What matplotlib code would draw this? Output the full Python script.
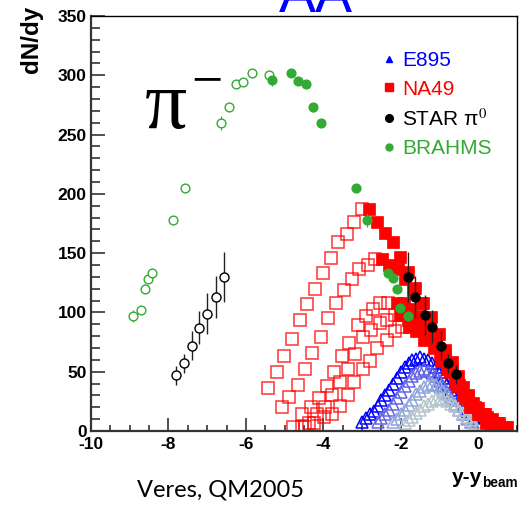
import matplotlib.pyplot as plt
import matplotlib.ticker as ticker
from matplotlib.lines import Line2D

plt.rcParams['font.family'] = ['Liberation Sans', 'DejaVu Sans']
plt.rcParams['mathtext.fontset'] = 'stix'
plt.rcParams['axes.unicode_minus'] = False

# E895 pi- dN/dy, 8, 6, 4, 2 AGeV (open triangles)
e895_8_x = [-3.0, -2.9, -2.8, -2.7, -2.6, -2.5, -2.4, -2.3, -2.2, -2.1, -2.0,
            -1.9, -1.8, -1.7, -1.6, -1.5, -1.4, -1.3, -1.2, -1.1, -1.0,
            -0.9, -0.8, -0.7, -0.6, -0.5, -0.4, -0.3, -0.2, -0.1, 0.0]
e895_8_y = [8, 11, 14, 17, 21, 26, 30, 35, 40, 45, 50, 54, 57, 60, 61, 62,
            61, 60, 57, 54, 50, 45, 40, 35, 30, 26, 21, 17, 14, 11, 8]
e895_6_x = [-2.6, -2.5, -2.4, -2.3, -2.2, -2.1, -2.0, -1.9, -1.8, -1.7, -1.6,
            -1.5, -1.4, -1.3, -1.2, -1.1, -1.0, -0.9, -0.8, -0.7, -0.6,
            -0.5, -0.4, -0.3, -0.2]
e895_6_y = [8, 11, 14, 18, 23, 28, 33, 38, 42, 46, 49, 51, 52, 51, 49, 46,
            42, 38, 33, 28, 23, 18, 14, 11, 8]
e895_4_x = [-2.2, -2.1, -2.0, -1.9, -1.8, -1.7, -1.6, -1.5, -1.4, -1.3, -1.2,
            -1.1, -1.0, -0.9, -0.8, -0.7, -0.6, -0.5, -0.4, -0.3, -0.2]
e895_4_y = [8, 10, 14, 18, 22, 26, 31, 34, 37, 39, 40, 39, 37, 34, 31, 26,
            22, 18, 14, 10, 8]
e895_2_x = [-1.9, -1.8, -1.7, -1.6, -1.5, -1.4, -1.3, -1.2, -1.1, -1.0,
            -0.9, -0.8, -0.7, -0.6, -0.5, -0.4, -0.3, -0.2, -0.1]
e895_2_y = [7, 9, 12, 15, 18, 21, 23, 25, 27, 27, 27, 25, 23, 21, 18, 15,
            12, 9, 7]

# NA49 158, 80, 40, 30, 20 AGeV: open = reflected, filled = measured
na49_158_open_x = [-5.43, -5.19, -5.01, -4.81, -4.60, -4.42, -4.21, -4.00,
                   -3.80, -3.62, -3.38, -3.20, -3.00]
na49_158_open_y = [36, 50, 63, 78, 94, 107, 120, 133, 146, 159, 166, 176, 187]
na49_158_x = [-2.82, -2.61, -2.40, -2.20, -2.02, -1.81, -1.63, -1.42, -1.21,
              -1.02, -0.85, -0.68, -0.52, -0.39, -0.26, -0.13, 0.0, 0.18,
              0.36, 0.54, 0.75]
na49_158_y = [187, 176, 167, 159, 147, 134, 121, 108, 96, 82, 68, 58, 46,
              37, 30, 24, 19, 14, 10, 7, 3]

na49_80_open_x = [-5.06, -4.88, -4.65, -4.47, -4.29, -4.06, -3.88, -3.67,
                  -3.46, -3.26, -3.07, -2.84, -2.66]
na49_80_open_y = [20, 29, 39, 52, 66, 79, 95, 108, 119, 128, 137, 140, 145]
na49_80_x = [-2.48, -2.30, -2.07, -1.88, -1.68, -1.47, -1.26, -1.08, -0.85,
             -0.67, -0.49, -0.26, -0.08]
na49_80_y = [145, 140, 137, 128, 119, 108, 95, 79, 66, 52, 39, 29, 20]

na49_40_open_x = [-4.78, -4.55, -4.31, -4.11, -3.90, -3.72, -3.51, -3.33,
                  -3.10, -2.89, -2.71, -2.53, -2.33]
na49_40_open_y = [3, 14, 20, 28, 38, 50, 63, 74, 89, 97, 103, 108, 108]
na49_40_x = [-2.11, -1.91, -1.73, -1.55, -1.34, -1.11, -0.93, -0.72, -0.54,
             -0.33, -0.13, 0.11, 0.34]
na49_40_y = [108, 108, 103, 97, 89, 74, 63, 50, 38, 28, 20, 14, 3]

na49_30_open_x = [-4.55, -4.37, -4.16, -3.95, -3.77, -3.57, -3.36, -3.18,
                  -2.97, -2.76, -2.53, -2.35, -2.14]
na49_30_open_y = [3, 7, 14, 20, 30, 41, 52, 65, 79, 85, 91, 94, 98]
na49_30_x = [-2.02, -1.81, -1.63, -1.40, -1.19, -0.98, -0.80, -0.59, -0.39,
             -0.21, 0.0, 0.21, 0.39]
na49_30_y = [98, 94, 91, 85, 79, 65, 52, 41, 30, 20, 14, 7, 3]

na49_20_open_x = [-4.47, -4.24, -3.98, -3.77, -3.57, -3.36, -3.20, -2.97,
                  -2.79, -2.61, -2.35, -2.14, -1.96]
na49_20_open_y = [3, 7, 12, 14, 21, 30, 41, 52, 59, 70, 77, 84, 88]
na49_20_x = [-1.80, -1.62, -1.41, -1.15, -0.97, -0.79, -0.56, -0.40, -0.19,
             0.01, 0.22, 0.48, 0.71]
na49_20_y = [88, 84, 77, 70, 59, 52, 41, 30, 21, 14, 12, 7, 3]

# STAR pi0 (filled) and its reflection (open)
star_x = [-1.81, -1.63, -1.37, -1.19, -0.96, -0.78, -0.57]
star_y = [130, 113, 98, 88, 72, 57, 48]
star_err = [21, 18, 17, 14, 12, 8, 8]
star_open_x = [-7.80, -7.60, -7.39, -7.21, -7.00, -6.77, -6.56]
star_open_y = [47, 57, 72, 87, 99, 113, 130]
star_open_err = [8, 8, 12, 14, 17, 18, 21]

# BRAHMS (filled) and its reflection (open)
brahms_x = [-5.32, -4.83, -4.65, -4.44, -4.26, -4.06, -3.15, -2.87, -2.33,
            -2.20, -2.09, -2.02, -1.81]
brahms_y = [296, 302, 295, 293, 273, 260, 205, 178, 133, 129, 120, 104, 97]
brahms_open_x = [-8.91, -8.71, -8.60, -8.53, -8.42, -7.88, -7.57, -6.64,
                 -6.43, -6.25, -6.07, -5.84, -5.40]
brahms_open_y = [97, 102, 120, 128, 133, 178, 205, 260, 273, 293, 294, 302, 300]
brahms_err = [5, 3, 3, 3, 4, 3, 3, 6, 3, 3, 3, 3, 3]

BLUE_SHADES = ['#0000ff', '#6464e4', '#8ea4dc', '#b4c4cc']
RED = '#ff0000'
GREEN = '#33aa33'

fig = plt.figure(figsize=(5.19, 5.05), dpi=100)
ax = fig.add_axes([91 / 519, 1 - 431 / 505, 426 / 519, 415 / 505])

# E895 triangles, lowest energy drawn last
for xs, ys, c in [(e895_8_x, e895_8_y, BLUE_SHADES[0]),
                  (e895_6_x, e895_6_y, BLUE_SHADES[1]),
                  (e895_4_x, e895_4_y, BLUE_SHADES[2]),
                  (e895_2_x, e895_2_y, BLUE_SHADES[3])]:
    ax.plot(xs, ys, ls='none', marker='^', ms=8, mfc='none', mec=c, mew=1.1)

# NA49 open squares
for xs, ys in [(na49_158_open_x, na49_158_open_y),
               (na49_80_open_x, na49_80_open_y),
               (na49_40_open_x, na49_40_open_y),
               (na49_30_open_x, na49_30_open_y),
               (na49_20_open_x, na49_20_open_y)]:
    ax.plot(xs, ys, ls='none', marker='s', ms=8.4, mfc='none', mec=RED,
            mew=1.1, alpha=0.8)

# NA49 filled squares
for xs, ys in [(na49_20_x, na49_20_y), (na49_30_x, na49_30_y),
               (na49_40_x, na49_40_y), (na49_80_x, na49_80_y),
               (na49_158_x, na49_158_y)]:
    ax.plot(xs, ys, ls='none', marker='s', ms=8.6, mfc=RED, mec=RED, mew=0.5)

# BRAHMS
ax.errorbar(brahms_open_x, brahms_open_y, yerr=brahms_err, fmt='o', ms=6.3,
            mfc='white', mec=GREEN, mew=1.0, ecolor=GREEN, elinewidth=0.8,
            capsize=0)
ax.errorbar(brahms_x, brahms_y, yerr=brahms_err, fmt='o', ms=6.3, mfc=GREEN,
            mec=GREEN, ecolor=GREEN, elinewidth=0.8, capsize=0)

# STAR pi0
ax.errorbar(star_open_x, star_open_y, yerr=star_open_err, fmt='o', ms=6.5,
            mfc='white', mec='black', mew=1.0, ecolor='#222222',
            elinewidth=1.0, capsize=0, zorder=5)
ax.errorbar(star_x, star_y, yerr=star_err, fmt='o', ms=6.5, mfc='black',
            mec='black', ecolor='#222222', elinewidth=1.0, capsize=0, zorder=5)

ax.set_xlim(-10, 1)
ax.set_ylim(0, 350)
ax.xaxis.set_major_locator(ticker.MultipleLocator(2))
ax.xaxis.set_minor_locator(ticker.MultipleLocator(0.5))
ax.yaxis.set_major_locator(ticker.MultipleLocator(50))
ax.yaxis.set_minor_locator(ticker.MultipleLocator(10))
ax.tick_params(which='both', direction='in', top=False, right=False,
               color='#333333', width=1.2)
ax.tick_params(axis='x', which='major', length=9.5, pad=4)
ax.tick_params(axis='x', which='minor', length=4.5)
ax.tick_params(axis='y', which='major', length=10, pad=3)
ax.tick_params(axis='y', which='minor', length=6.5)
for lab in ax.get_xticklabels() + ax.get_yticklabels():
    lab.set_fontweight('bold')
    lab.set_fontsize(12.5)
for side in ['left', 'bottom']:
    ax.spines[side].set_linewidth(1.6)
    ax.spines[side].set_color('#333333')
for side in ['top', 'right']:
    ax.spines[side].set_linewidth(1.0)
    ax.spines[side].set_color('black')

handles = [
    Line2D([], [], ls='none', marker='^', ms=5, mfc=BLUE_SHADES[0], mec=BLUE_SHADES[0]),
    Line2D([], [], ls='none', marker='s', ms=6, mfc=RED, mec=RED),
    Line2D([], [], ls='none', marker='o', ms=5.5, mfc='black', mec='black'),
    Line2D([], [], ls='none', marker='o', ms=5, mfc=GREEN, mec=GREEN),
]
ax.legend(handles, ['E895', 'NA49', 'STAR π$^{0}$', 'BRAHMS'],
          loc='upper left', bbox_to_anchor=(0.665, 0.935), frameon=False,
          handlelength=0.6, handletextpad=0.35, labelspacing=0.45,
          fontsize=15, labelcolor='markerfacecolor', borderaxespad=0)

fig.text(31 / 519, 1 - 6 / 505, 'dN/dy', rotation=90, ha='center', va='top',
         fontsize=17.5, fontweight='bold')
fig.text(482 / 519, 1 - 483 / 505, 'y-y', ha='right', va='baseline',
         fontsize=15, fontweight='bold')
fig.text(482 / 519, 1 - 487 / 505, 'beam', ha='left', va='baseline',
         fontsize=9.8, fontweight='bold')
fig.text(137 / 519, 1 - 497 / 505, 'Veres, QM2005', ha='left', va='baseline',
         fontsize=17, family=['Lato', 'DejaVu Sans'])
fig.text(145 / 519, 1 - 128 / 505, 'π', ha='left', va='baseline',
         fontsize=60, family=['Liberation Serif', 'DejaVu Serif'])
fig.text(191 / 519, 1 - 97 / 505, '−', ha='left', va='baseline',
         fontsize=40, family=['Liberation Serif', 'DejaVu Serif'])
fig.text(316 / 519, 1 - 12 / 505, 'AA', ha='center', va='baseline',
         fontsize=40, color='blue')

fig.savefig('out.png', dpi=100)
